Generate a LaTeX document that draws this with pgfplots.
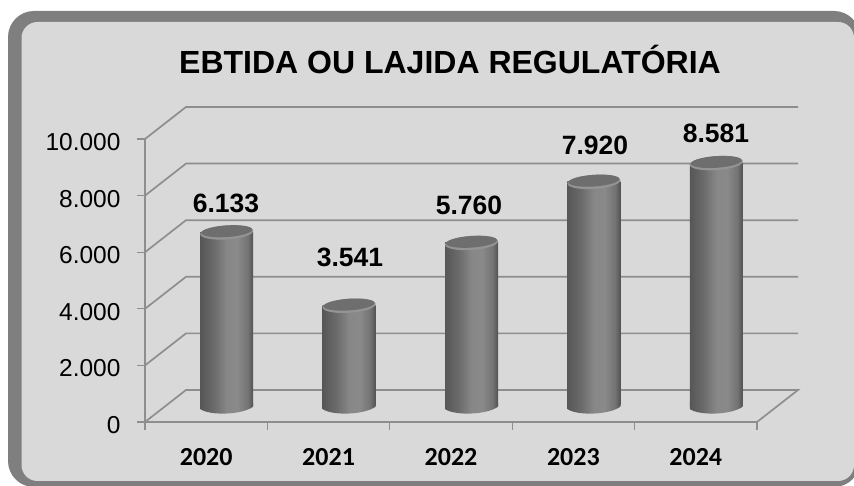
\documentclass[border=0pt]{standalone}
\usepackage{fontspec}
\setmainfont{Liberation Sans}
\newfontfamily\carlito{Carlito}
\usepackage{pgfplots}
\pgfplotsset{compat=1.18}
\definecolor{panel}{HTML}{D9D9D9}
\definecolor{frame}{HTML}{7F7F7F}
\definecolor{gridc}{HTML}{8E8E8E}
\pgfdeclarehorizontalshading{cyl}{100bp}{
  color(0bp)=(black!66);
  color(25bp)=(black!66);
  color(38bp)=(black!58);
  color(50bp)=(black!47);
  color(60bp)=(black!46);
  color(70bp)=(black!55);
  color(75bp)=(black!68);
  color(100bp)=(black!68)}
\pgfdeclareplotmark{cyltop}{%
  \pgfsetfillcolor{black!42}%
  \pgfpathellipse{\pgfpointorigin}{\pgfqpoint{26.5pt}{1.8pt}}{\pgfqpoint{-0.6pt}{7pt}}%
  \pgfusepath{fill}%
  \pgfsetfillcolor{black!57}%
  \pgfpathellipse{\pgfqpoint{0pt}{1.2pt}}{\pgfqpoint{25.5pt}{1.8pt}}{\pgfqpoint{-0.6pt}{5.8pt}}%
  \pgfusepath{fill}}
\pgfdeclareplotmark{cylbase}{%
  \path[shading=cyl, draw=none] (-26.5pt,3pt) -- (-26.5pt,-3pt) .. controls (-18pt,-9.5pt) and (14pt,-9.5pt) .. (26.5pt,-0.7pt) -- (26.5pt,3pt) -- cycle;}
\pgfplotsset{cylbar/.style={ybar, bar width=53pt, bar shift=0pt, draw=none, shading=cyl, xshift=20.5pt, yshift=16pt, forget plot}}
\begin{document}
\begin{tikzpicture}
\useasboundingbox (0,0) rectangle (854pt,486pt);
\begin{scope}
\clip (0,0) rectangle (854pt,486pt);
\fill[frame, rounded corners=26pt] (8pt,-1pt) rectangle (860pt,475pt);
\fill[panel, rounded corners=16pt] (21.5pt,5pt) rectangle (854pt,464pt);
\end{scope}
\node[font=\bfseries\fontsize{32}{34}\selectfont, anchor=center] at (450pt,427pt) {EBTIDA OU LAJIDA REGULATÓRIA};
\begin{axis}[
  at={(145pt,64pt)}, anchor=south west,
  scale only axis, width=612pt, height=283pt,
  xmin=0, xmax=5, ymin=0, ymax=10000,
  clip=false,
  axis x line=bottom, axis y line=left,
  axis line style={-, draw=gridc, line width=1.7pt},
  tick style={draw=gridc, line width=1.2pt},
  tick align=outside,
  major tick length=8pt,
  minor tick length=8pt,
  xtick={0.5,1.5,2.5,3.5,4.5},
  xticklabels={2020,2021,2022,2023,2024},
  minor xtick={0,1,2,3,4,5},
  x tick style={draw=none},
  minor x tick style={draw=gridc, line width=1.2pt},
  xticklabel style={font=\carlito\bfseries\fontsize{26}{28}\selectfont, yshift=-15pt},
  ytick={0,2000,4000,6000,8000,10000},
  scaled y ticks=false,
  y tick label style={font=\fontsize{24.5}{26}\selectfont,
     /pgf/number format/assume math mode=true,
     /pgf/number format/1000 sep={.}, xshift=-13pt, yshift=-3pt},
]
\addplot[draw=gridc, line width=1.7pt, forget plot] coordinates {(0,0)(0.335,1131)(5.335,1131)(5,0)};
\addplot[draw=gridc, line width=1.7pt, forget plot] coordinates {(0,2000)(0.335,3131)(5.335,3131)};
\addplot[draw=gridc, line width=1.7pt, forget plot] coordinates {(0,4000)(0.335,5131)(5.335,5131)};
\addplot[draw=gridc, line width=1.7pt, forget plot] coordinates {(0,6000)(0.335,7131)(5.335,7131)};
\addplot[draw=gridc, line width=1.7pt, forget plot] coordinates {(0,8000)(0.335,9131)(5.335,9131)};
\addplot[draw=gridc, line width=1.7pt, forget plot] coordinates {(0,10000)(0.335,11131)(5.335,11131)};
% cylinder bodies
\addplot[cylbar] coordinates {(0.5,6133)};
\addplot[cylbar] coordinates {(1.5,3541)};
\addplot[cylbar] coordinates {(2.5,5760)};
\addplot[cylbar] coordinates {(3.5,7920)};
\addplot[cylbar] coordinates {(4.5,8581)};
% cylinder bases
\addplot[only marks, mark=cylbase, xshift=20.5pt, yshift=16pt, forget plot] coordinates {(0.5,0)(1.5,0)(2.5,0)(3.5,0)(4.5,0)};
% cylinder tops
\addplot[only marks, mark=cyltop, xshift=20.5pt, yshift=16pt, forget plot]
  coordinates {(0.5,6133)(1.5,3541)(2.5,5760)(3.5,7920)(4.5,8581)};
% value labels
\addplot[draw=none, mark=none, forget plot, point meta=explicit symbolic,
  nodes near coords, every node near coord/.style={anchor=center, font=\bfseries\fontsize{26.5}{28}\selectfont}]
  table[meta=l] {
x y l
0.662 7739 6.133
1.675 5830 3.541
2.647 7668 5.760
3.676 9788 7.920
4.665 10212 8.581
};
\end{axis}
\end{tikzpicture}
\end{document}
